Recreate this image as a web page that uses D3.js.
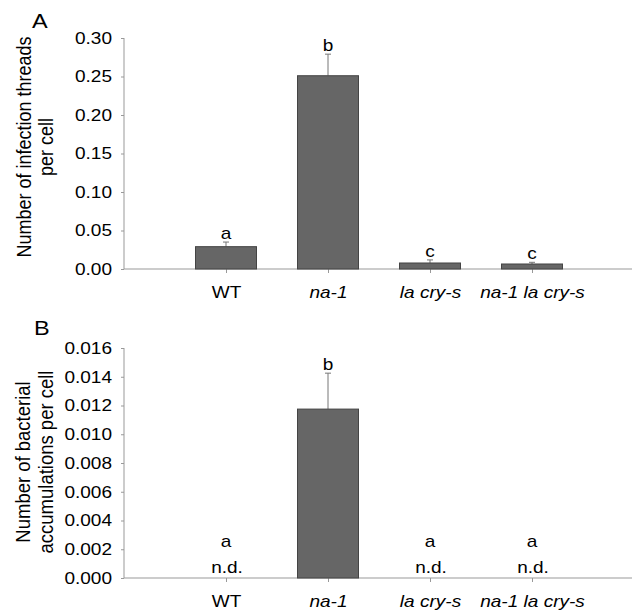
<!DOCTYPE html>
<html>
<head>
<meta charset="utf-8">
<script src="https://cdnjs.cloudflare.com/ajax/libs/d3/7.8.5/d3.min.js"></script>
<style>
  body { margin: 0; background: #fff; }
  text { font-family: "Liberation Sans", Arial, sans-serif; fill: #000; }
</style>
</head>
<body>
<div id="chart"></div>
<script>
// categories (italic for mutants)
var genotypes = ["WT", "na-1", "la cry-s", "na-1 la cry-s"];
var italic = [false, true, true, true];

// panel A: infection threads per cell
var threadsMean = [0.029, 0.251, 0.0078, 0.0065];
var threadsErr = [0.006, 0.028, 0.004, 0.0022];
var threadsLetters = ["a", "b", "c", "c"];
var threadsTicks = [0, 0.05, 0.10, 0.15, 0.20, 0.25, 0.30];

// panel B: bacterial accumulations per cell (null = not detected)
var accumMean = [null, 0.01175, null, null];
var accumErr = [null, 0.0025, null, null];
var accumLetters = ["a", "b", "a", "a"];
var accumTicks = [0, 0.002, 0.004, 0.006, 0.008, 0.010, 0.012, 0.014, 0.016];

var w = 632, h = 615;
var stretch = 1.12; // the original figure's text is a little wide

var svg = d3.select("#chart").append("svg")
  .attr("width", w)
  .attr("height", h);

var x = d3.scalePoint()
  .domain(genotypes)
  .range([124, 634])
  .padding(1);

var barW = 61;

function panel(opts) {
  var y = d3.scaleLinear().domain(opts.domain).range([opts.bottom, opts.top]);
  var g = svg.append("g");

  // y axis
  var yAxis = g.append("g")
    .attr("transform", "translate(124,0)")
    .call(d3.axisLeft(y).tickValues(opts.ticks).tickFormat(d3.format(opts.fmt)).tickSize(3));
  yAxis.select(".domain").attr("stroke", "#999").attr("d", "M0," + opts.top + "V" + opts.bottom);
  yAxis.selectAll(".tick line").attr("stroke", "#999");
  yAxis.selectAll("text")
    .style("font-size", "17px")
    .attr("x", -12 / stretch)
    .attr("transform", "scale(" + stretch + ",1)")
    .attr("fill", "#000");

  // x axis
  var xAxis = g.append("g")
    .attr("transform", "translate(0," + opts.bottom + ")")
    .call(d3.axisBottom(x).tickSize(4).tickSizeOuter(0).tickPadding(13));
  xAxis.select(".domain").attr("stroke", "#999").attr("d", "M124,0H632");
  xAxis.selectAll(".tick line").attr("stroke", "#999");
  xAxis.selectAll("text")
    .style("font-size", "17px")
    .style("font-style", function(d, i) { return italic[i] ? "italic" : "normal"; })
    .attr("transform", "scale(" + stretch + ",1)")
    .attr("fill", "#000");

  var data = genotypes.map(function(d, i) {
    return { name: d, v: opts.mean[i], e: opts.err[i], letter: opts.letters[i] };
  });

  // error bars (upper only)
  var eb = g.selectAll(".err").data(data.filter(function(d) { return d.v != null; }))
    .enter().append("g");
  eb.append("line")
    .attr("x1", function(d) { return x(d.name); })
    .attr("x2", function(d) { return x(d.name); })
    .attr("y1", function(d) { return y(d.v); })
    .attr("y2", function(d) { return y(d.v + d.e); })
    .attr("stroke", "#777").attr("stroke-width", 1);
  eb.append("line")
    .attr("x1", function(d) { return x(d.name) - 3; })
    .attr("x2", function(d) { return x(d.name) + 3; })
    .attr("y1", function(d) { return y(d.v + d.e); })
    .attr("y2", function(d) { return y(d.v + d.e); })
    .attr("stroke", "#777").attr("stroke-width", 1);

  // bars
  g.selectAll(".bar").data(data.filter(function(d) { return d.v != null; }))
    .enter().append("rect")
    .attr("x", function(d) { return x(d.name) - barW / 2; })
    .attr("y", function(d) { return y(d.v); })
    .attr("width", barW)
    .attr("height", function(d) { return y(0) - y(d.v); })
    .attr("fill", "#666666")
    .attr("stroke", "#444")
    .attr("stroke-width", 1);

  // letters
  g.selectAll(".letter").data(data)
    .enter().append("text")
    .attr("transform", function(d) {
      var ty = d.v == null ? opts.bottom - 31 : y(d.v + d.e) - 3;
      return "translate(" + x(d.name) + "," + ty + ") scale(" + stretch + ",1)";
    })
    .attr("text-anchor", "middle")
    .style("font-size", "17px")
    .text(function(d) { return d.letter; });

  // n.d. labels
  g.selectAll(".nd").data(data.filter(function(d) { return d.v == null; }))
    .enter().append("text")
    .attr("transform", function(d) {
      return "translate(" + (x(d.name) + 1) + "," + (opts.bottom - 5) + ") scale(" + stretch + ",1)";
    })
    .attr("text-anchor", "middle")
    .style("font-size", "17px")
    .text("n.d.");

  // y title
  var t = g.append("text")
    .attr("transform", "translate(" + opts.titleX + "," + opts.titleY + ") rotate(-90) scale(1," + stretch + ")")
    .attr("text-anchor", "middle")
    .style("font-size", opts.titleSize);
  t.append("tspan").attr("x", 0).attr("dy", 0).text(opts.title[0]);
  t.append("tspan").attr("x", 0).attr("dy", "1.1em").text(opts.title[1]);

  // panel letter
  g.append("text")
    .attr("transform", "translate(" + opts.labelX + "," + opts.labelY + ") scale(" + stretch + ",1)")
    .style("font-size", "21px")
    .text(opts.label);
}

panel({
  domain: [0, 0.30], ticks: threadsTicks, fmt: ".2f",
  top: 38, bottom: 269,
  mean: threadsMean, err: threadsErr, letters: threadsLetters,
  title: ["Number of infection threads", "per cell"],
  titleSize: "18px",
  titleX: 31, titleY: 147,
  label: "A", labelX: 32, labelY: 28
});

panel({
  domain: [0, 0.016], ticks: accumTicks, fmt: ".3f",
  top: 348, bottom: 578,
  mean: accumMean, err: accumErr, letters: accumLetters,
  title: ["Number of bacterial", "accumulations per cell"],
  titleSize: "18.5px",
  titleX: 30, titleY: 462,
  label: "B", labelX: 34, labelY: 335
});
</script>
</body>
</html>
